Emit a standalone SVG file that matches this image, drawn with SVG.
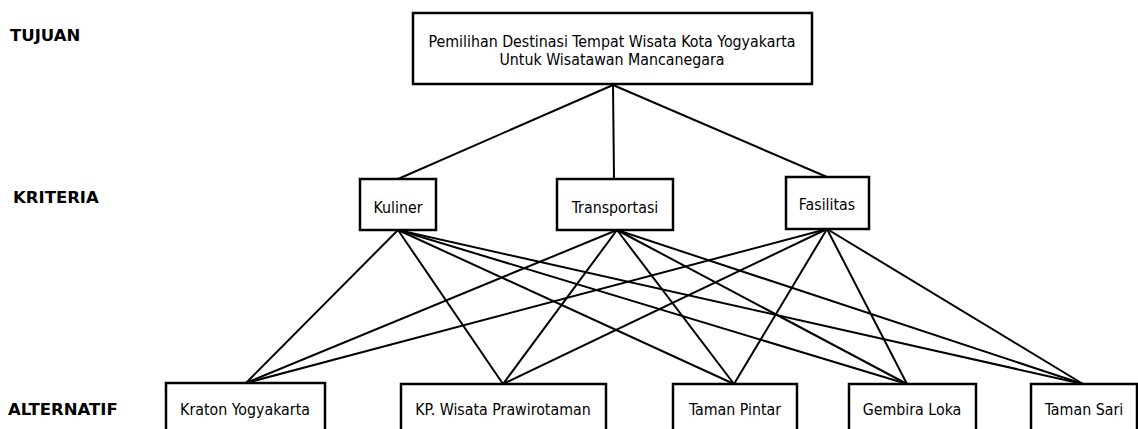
<svg xmlns="http://www.w3.org/2000/svg" width="1138" height="429" viewBox="0 0 1138 429">
  <style>
    .box { fill: #ffffff; stroke: #000000; stroke-width: 2.5; }
    .edge { stroke: #000000; stroke-width: 2; fill: none; stroke-linecap: round; }
    .lbl { font-family: "DejaVu Sans Condensed", "DejaVu Sans", "Liberation Sans", sans-serif; font-size: 15.8px; fill: #000000; text-anchor: middle; }
    .lvl { font-family: "DejaVu Sans", "Liberation Sans", sans-serif; font-size: 16.5px; font-weight: bold; fill: #000000; }
  </style>

  <rect width="1138" height="429" fill="#ffffff"/>

  <!-- level labels -->
  <g id="levels">
    <text class="lvl" x="10" y="41">TUJUAN</text>
    <text class="lvl" x="13" y="203">KRITERIA</text>
    <text class="lvl" x="8" y="415">ALTERNATIF</text>
  </g>

  <!-- connectors -->
  <g id="connectors">
    <line class="edge" x1="613" y1="85" x2="398" y2="179"/>
    <line class="edge" x1="613" y1="85" x2="614" y2="179"/>
    <line class="edge" x1="613" y1="85" x2="827" y2="177"/>

    <line class="edge" x1="398" y1="230" x2="246" y2="383"/>
    <line class="edge" x1="398" y1="230" x2="503" y2="384"/>
    <line class="edge" x1="398" y1="230" x2="734" y2="384"/>
    <line class="edge" x1="398" y1="230" x2="907" y2="384"/>
    <line class="edge" x1="398" y1="230" x2="1083" y2="384"/>

    <line class="edge" x1="617" y1="230" x2="246" y2="383"/>
    <line class="edge" x1="617" y1="230" x2="503" y2="384"/>
    <line class="edge" x1="617" y1="230" x2="734" y2="384"/>
    <line class="edge" x1="617" y1="230" x2="907" y2="384"/>
    <line class="edge" x1="617" y1="230" x2="1083" y2="384"/>

    <line class="edge" x1="827" y1="229" x2="246" y2="383"/>
    <line class="edge" x1="827" y1="229" x2="503" y2="384"/>
    <line class="edge" x1="827" y1="229" x2="734" y2="384"/>
    <line class="edge" x1="827" y1="229" x2="907" y2="384"/>
    <line class="edge" x1="827" y1="229" x2="1083" y2="384"/>
  </g>

  <!-- goal -->
  <g id="goal">
    <rect class="box" x="413" y="13" width="399" height="71"/>
    <text class="lbl" x="612" y="47">Pemilihan Destinasi Tempat Wisata Kota Yogyakarta</text>
    <text class="lbl" x="612" y="65">Untuk Wisatawan Mancanegara</text>
  </g>

  <!-- criteria -->
  <g id="kuliner">
    <rect class="box" x="360" y="179" width="76" height="51"/>
    <text class="lbl" x="398" y="213">Kuliner</text>
  </g>
  <g id="transportasi">
    <rect class="box" x="557" y="179" width="116" height="51"/>
    <text class="lbl" x="615" y="213">Transportasi</text>
  </g>
  <g id="fasilitas">
    <rect class="box" x="786" y="177" width="83" height="52"/>
    <text class="lbl" x="827" y="210">Fasilitas</text>
  </g>

  <!-- alternatives -->
  <g id="kraton-yogyakarta">
    <rect class="box" x="166" y="383" width="159" height="60"/>
    <text class="lbl" x="245" y="415">Kraton Yogyakarta</text>
  </g>
  <g id="kp-wisata-prawirotaman">
    <rect class="box" x="401" y="384" width="205" height="60"/>
    <text class="lbl" x="503" y="415">KP. Wisata Prawirotaman</text>
  </g>
  <g id="taman-pintar">
    <rect class="box" x="673" y="384" width="124" height="60"/>
    <text class="lbl" x="735" y="415">Taman Pintar</text>
  </g>
  <g id="gembira-loka">
    <rect class="box" x="849" y="384" width="127" height="60"/>
    <text class="lbl" x="912" y="415">Gembira Loka</text>
  </g>
  <g id="taman-sari">
    <rect class="box" x="1031" y="384" width="106" height="60"/>
    <text class="lbl" x="1084" y="415">Taman Sari</text>
  </g>
</svg>
